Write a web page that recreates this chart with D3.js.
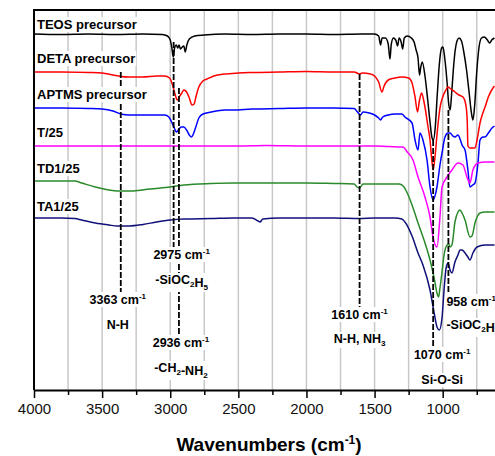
<!DOCTYPE html>
<html><head><meta charset="utf-8">
<script src="https://cdn.jsdelivr.net/npm/d3@7"></script>
<style>
html,body{margin:0;padding:0;background:#fff;overflow:hidden}
svg{display:block;font-family:"Liberation Sans",Arial,Helvetica,sans-serif}
</style></head><body>
<svg id="chart" width="495" height="456"></svg>
<script>
// FTIR spectra, stacked: [wavenumber (cm-1), transmittance (a.u., offset per trace)]
const teos = [[4000,356],[3800,355.5],[3600,356],[3400,355.5],[3200,356],[3060,355.5],[3020,354],[3000,350],[2988,342],[2978,333],[2968,342],[2955,345],[2945,342],[2935,345],[2925,341],[2912,343],[2900,344],[2890,338],[2878,345],[2860,351],[2820,354],[2750,355],[2600,356],[2400,355.5],[2200,356],[2000,356],[1800,355.5],[1600,356],[1500,356],[1470,354],[1456,345],[1445,352],[1420,352],[1400,346],[1387,331],[1378,345],[1362,352],[1345,350],[1331,344],[1320,352],[1305,348],[1294,341],[1282,352],[1260,354],[1230,352],[1210,348],[1195,340],[1181,332],[1170,315],[1162,322],[1150,328],[1130,314],[1110,290],[1093,268],[1078,252],[1068,250],[1055,262],[1040,295],[1025,325],[1008,342],[998,343],[985,332],[968,308],[955,285],[945,280],[935,295],[922,320],[908,340],[895,349],[880,352],[862,349],[845,338],[825,320],[808,300],[790,278],[778,270],[765,285],[750,318],[733,343],[715,352],[695,353],[672,350],[655,347],[640,350],[620,352]];

const deta = [[4000,318],[3800,318],[3600,317.5],[3500,317],[3420,315],[3363,313.5],[3300,313],[3200,313],[3100,314],[3040,314],[3005,312],[2985,306],[2965,296],[2948,290],[2930,294],[2915,297],[2900,300],[2880,298],[2860,292],[2840,285],[2825,286],[2810,294],[2790,303],[2760,309],[2730,311],[2680,314],[2600,316],[2500,317],[2400,317.5],[2200,318],[2000,318.5],[1800,318],[1650,318],[1610,316],[1590,317],[1530,316],[1500,314],[1470,308],[1446,298],[1430,304],[1400,310],[1350,312],[1300,313],[1250,312],[1225,307],[1203,293],[1185,278],[1170,290],[1155,297],[1140,290],[1130,283],[1110,265],[1093,250],[1080,230],[1070,220],[1055,235],[1040,258],[1020,282],[1000,293],[980,299],[961,303],[940,301],[910,298],[880,295],[851,293],[830,285],[820,270],[815,244],[800,242],[763,242],[745,252],[726,267],[705,277],[689,283],[665,293],[640,300],[620,304]];

const aptms = [[4000,282],[3800,282],[3600,281.5],[3500,281],[3420,279],[3363,276],[3300,275],[3200,275],[3100,275],[3040,275],[3010,273],[2990,268],[2970,262],[2955,258],[2940,260],[2920,263],[2900,263],[2880,260],[2860,255],[2845,253],[2830,256],[2810,264],[2790,272],[2760,276],[2700,278],[2600,280],[2540,280],[2400,281],[2200,281.5],[2000,282],[1800,282],[1650,281.5],[1625,278],[1603,275],[1585,278],[1540,277],[1500,275],[1470,272],[1456,270],[1440,273],[1400,275],[1350,276],[1300,276],[1277,273],[1225,267],[1203,250],[1181,240],[1167,257],[1145,250],[1115,230],[1093,203],[1071,190],[1042,203],[1020,225],[1005,237],[983,253],[961,257],[946,257],[925,254],[910,253],[888,255],[870,250],[858,245],[836,240],[815,220],[800,203],[780,205],[763,207],[741,227],[726,250],[705,253],[689,253],[665,257],[638,262],[620,264]];

const t25 = [[4000,244],[3700,244],[3400,244],[3100,244],[2800,244],[2500,244],[2300,244.5],[2000,244],[1700,244],[1500,244],[1400,243.5],[1291,243],[1260,238],[1218,230],[1181,213],[1130,193],[1093,173],[1071,153],[1042,143],[1020,173],[1005,203],[968,213],[932,220],[888,227],[851,225],[822,213],[800,207],[778,220],[741,227],[689,228],[638,228],[620,228]];

const td125 = [[4000,209],[3800,209],[3700,209],[3650,207],[3550,203],[3450,200],[3390,199],[3270,199],[3150,201],[3000,203],[2900,205],[2700,206.5],[2539,207],[2300,207],[2000,207],[1800,206.5],[1650,206],[1629,203],[1610,202],[1585,206],[1500,206],[1400,206],[1320,206],[1290,204],[1260,197],[1225,185],[1181,167],[1130,147],[1093,130],[1060,110],[1040,96],[1030,93],[1020,102],[1005,118],[990,135],[968,145],[955,146],[946,143],[932,145],[910,168],[888,178],[873,180],[858,177],[836,170],[800,153],[785,154],[763,167],[726,177],[689,178],[638,178],[620,178]];

const ta125 = [[4000,172],[3800,172],[3700,171.5],[3650,170],[3550,167],[3450,165],[3390,164],[3300,164],[3200,165.5],[3100,168],[3000,170],[2900,171],[2700,171.5],[2539,172],[2400,172],[2355,169],[2341,168],[2320,171],[2200,172],[2000,172],[1800,172],[1610,171.5],[1500,172],[1350,172],[1300,171],[1277,168],[1225,154],[1181,137],[1145,125],[1093,100],[1060,75],[1042,63],[1025,60],[1005,72],[990,100],[975,122],[961,127],[946,120],[932,117],[910,128],[888,135],[873,140],[858,140],[836,137],[815,133],[800,130],[778,137],[748,143],[689,145],[638,145],[620,145]];

const seriesData = [teos, deta, aptms, t25, td125, ta125];
const seriesNames = ["TEOS precursor", "DETA precursor", "APTMS precursor", "T/25", "TD1/25", "TA1/25"];
const seriesColors = ["#000000", "#ff0000", "#0000ff", "#ff00ff", "#2a8a2a", "#10107a"];

const majorTicks = [4000, 3500, 3000, 2500, 2000, 1500, 1000];
const minorTicks = [3750, 3250, 2750, 2250, 1750, 1250, 750];

// assigned bands: position (cm-1) and group ("_n" marks a subscript digit)
const bandPositions = [3363, 2975, 2936, 1610, 1070, 958];
const bandGroups = ["N-H", "-SiOC_2H_5", "-CH_2-NH_2", "N-H, NH_3", "Si-O-Si", "-SiOC_2H_5"];

// drawing layout
const W = 495, H = 456;
const plot = {left: 34, top: 10, bottom: 390, pxPerUnit: 0.13623};
const seriesLabelLift = [5, 9, 9, 9, 8, 7];
const bandLayout = [
  {top: 72,  bottom: 292, dx: -3, y1: 304, y2: 329, anchor: "middle"},
  {top: 42,  bottom: 248, dx: 8,  y1: 259, y2: 284, anchor: "middle"},
  {top: 88,  bottom: 336, dx: 2,  y1: 347, y2: 372, anchor: "middle"},
  {top: 74,  bottom: 307, dx: 0,  y1: 319, y2: 343, anchor: "middle"},
  {top: 140, bottom: 347, dx: 9,  y1: 359, y2: 384, anchor: "middle"},
  {top: 110, bottom: 293, dx: -2, y1: 306, y2: 329, anchor: "start"}
];

const svg = d3.select("#chart");
const x = d3.scaleLinear().domain([4000, 500])
  .range([plot.left, plot.left + 3500 * plot.pxPerUnit]);
const y = d3.scaleLinear().domain([0, 380]).range([plot.bottom, plot.top]);
const right = x.range()[1];

// vertical grid
svg.append("g").selectAll("line")
  .data(majorTicks.concat(minorTicks).filter(v => v < 4000))
  .join("line")
  .attr("x1", d => x(d)).attr("x2", d => x(d))
  .attr("y1", plot.top).attr("y2", plot.bottom)
  .attr("stroke", "#c8c8c8").attr("stroke-width", 1.5);

// spectra
svg.append("clipPath").attr("id", "clip").append("rect")
  .attr("x", plot.left).attr("y", plot.top)
  .attr("width", right - plot.left).attr("height", plot.bottom - plot.top);

const line = d3.line().x(d => x(d[0])).y(d => y(d[1])).curve(d3.curveMonotoneX);
svg.append("g").attr("clip-path", "url(#clip)")
  .selectAll("path").data(seriesData).join("path")
  .attr("d", line)
  .attr("fill", "none")
  .attr("stroke", (d, i) => seriesColors[i])
  .attr("stroke-width", 1.5)
  .attr("stroke-linejoin", "round");

// band marker lines
svg.append("g").selectAll("line").data(bandPositions).join("line")
  .attr("x1", d => x(d)).attr("x2", d => x(d))
  .attr("y1", (d, i) => bandLayout[i].top)
  .attr("y2", (d, i) => bandLayout[i].bottom)
  .attr("stroke", "#000").attr("stroke-width", 1.8)
  .attr("stroke-dasharray", "6,2");

// frame
svg.append("line").attr("x1", plot.left).attr("x2", right)
  .attr("y1", plot.top).attr("y2", plot.top)
  .attr("stroke", "#000").attr("stroke-width", 2);
svg.append("line").attr("x1", right).attr("x2", right)
  .attr("y1", plot.top).attr("y2", plot.bottom)
  .attr("stroke", "#000").attr("stroke-width", 2);
svg.append("line").attr("x1", plot.left).attr("x2", plot.left)
  .attr("y1", plot.top - 1).attr("y2", plot.bottom)
  .attr("stroke", "#000").attr("stroke-width", 2);

// bottom axis: labelled major ticks and unlabelled minor ticks
const axisMajor = svg.append("g").attr("transform", `translate(0,${plot.bottom})`)
  .call(d3.axisBottom(x).tickValues(majorTicks).tickFormat(d3.format("d"))
    .tickSize(8).tickSizeOuter(0).tickPadding(5));
axisMajor.select(".domain").attr("stroke-width", 2);
axisMajor.selectAll(".tick line").attr("stroke-width", 1.5);
axisMajor.selectAll(".tick text")
  .attr("font-family", "'Liberation Sans', Arial, sans-serif")
  .attr("font-size", 15).attr("fill", "#111");
const axisMinor = svg.append("g").attr("transform", `translate(0,${plot.bottom})`)
  .call(d3.axisBottom(x).tickValues(minorTicks).tickFormat("")
    .tickSize(5).tickSizeOuter(0));
axisMinor.select(".domain").remove();
axisMinor.selectAll(".tick line").attr("stroke-width", 1.5);

// axis title
const title = svg.append("text")
  .attr("x", 269).attr("y", 451)
  .attr("text-anchor", "middle")
  .attr("font-size", 19).attr("font-weight", "bold");
title.append("tspan").text("Wavenumbers (cm");
title.append("tspan").attr("dy", -7).attr("font-size", 12).text("-1");
title.append("tspan").attr("dy", 7).text(")");

// text helper: white box behind the label so grid and marker lines stop at it
function boxed(g, build) {
  const t = build(g.append("text"));
  const b = t.node().getBBox();
  g.insert("rect", "text")
    .attr("x", b.x - 1).attr("y", b.y)
    .attr("width", b.width + 2).attr("height", b.height)
    .attr("fill", "#fff");
  return t;
}

function richText(t, str, size) {
  const parts = str.split(/_(\d)/);
  parts.forEach((p, k) => {
    if (!p) return;
    if (k % 2 === 1) {
      t.append("tspan").attr("dy", 3).attr("font-size", size * 0.65).text(p);
      t.append("tspan").attr("dy", -3).text("");
    } else {
      t.append("tspan").text(p);
    }
  });
  return t;
}

// series labels
seriesNames.forEach((name, i) => {
  const g = svg.append("g");
  boxed(g, t => t.attr("x", plot.left + 3)
    .attr("y", y(seriesData[i][0][1]) - seriesLabelLift[i])
    .attr("font-size", 13).attr("font-weight", "bold")
    .text(name));
});

// band annotations
bandPositions.forEach((wn, i) => {
  const L = bandLayout[i];
  const tx = x(wn) + L.dx;
  const g1 = svg.append("g");
  boxed(g1, t => {
    t.attr("x", tx).attr("y", L.y1).attr("text-anchor", L.anchor)
      .attr("font-size", 12.5).attr("font-weight", "bold");
    t.append("tspan").text(wn + " cm");
    t.append("tspan").attr("dy", -5).attr("font-size", 8).text("-1");
    return t;
  });
  const g2 = svg.append("g");
  boxed(g2, t => {
    t.attr("x", tx).attr("y", L.y2).attr("text-anchor", L.anchor)
      .attr("font-size", 12.5).attr("font-weight", "bold");
    return richText(t, bandGroups[i], 12.5);
  });
});
</script>
</body></html>
